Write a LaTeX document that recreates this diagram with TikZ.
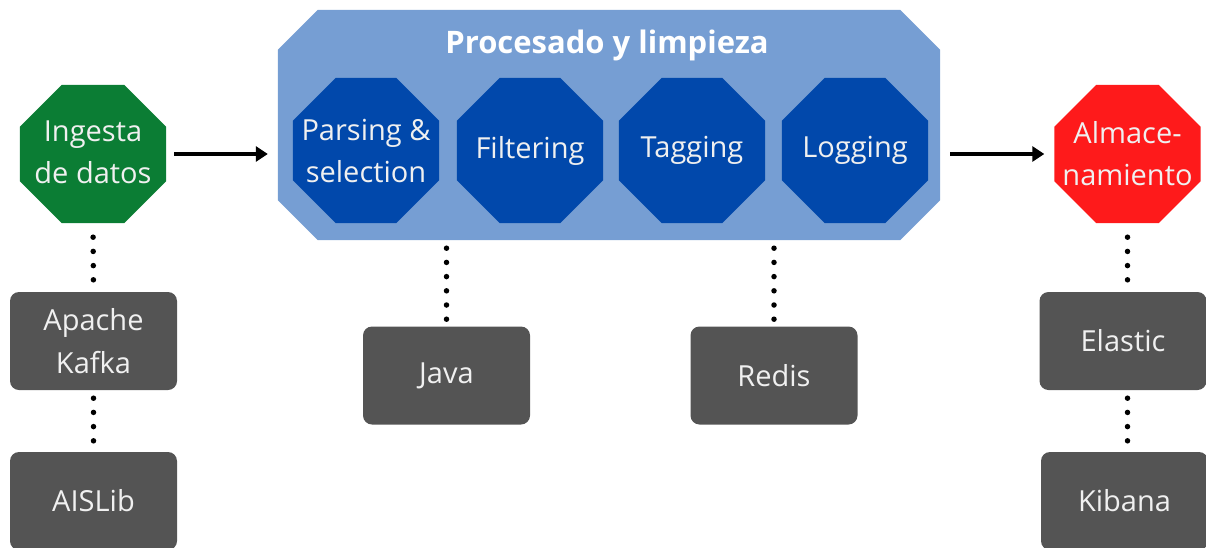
\documentclass[tikz,border=0pt]{standalone}
\usepackage{fontspec}
\setmainfont{Open Sans}
\usetikzlibrary{arrows.meta}
\definecolor{ingreen}{RGB}{11,125,52}
\definecolor{procblue}{RGB}{118,158,211}
\definecolor{stepblue}{RGB}{1,72,171}
\definecolor{storered}{RGB}{254,26,27}
\definecolor{toolgrey}{RGB}{84,84,84}
\definecolor{txtwhite}{RGB}{240,240,240}
\newcommand\octfill[3]{\fill[#3] ([xshift=#2]#1.north west) -- ([xshift=-#2]#1.north east)
  -- ([yshift=-#2]#1.north east) -- ([yshift=#2]#1.south east)
  -- ([xshift=-#2]#1.south east) -- ([xshift=#2]#1.south west)
  -- ([yshift=#2]#1.south west) -- ([yshift=-#2]#1.north west) -- cycle;}
\tikzset{
  octo/.style={rectangle, inner sep=0pt, minimum width=146pt, minimum height=138pt, draw=none},
  octotxt/.style={text=txtwhite, align=center, inner sep=0pt,
    font=\fontsize{29}{42}\selectfont},
  toolbox/.style={rounded corners=9pt, fill=toolgrey, minimum width=167pt,
    minimum height=98pt, inner sep=0pt, text=txtwhite, align=center,
    font=\fontsize{29}{43}\selectfont},
  dotline/.style={line width=5.5pt, line cap=round, dash pattern=on 0pt off 14.2pt},
  flow/.style={line width=3.5pt, -{Triangle[length=12pt,width=15pt]}}
}
\begin{document}
\begin{tikzpicture}[x=1pt,y=-1pt]
\useasboundingbox (0,0) rectangle (1206,547);
% processing container
\node[rectangle, inner sep=0pt, minimum width=662pt, minimum height=230pt] (proc) at (609,125) {};
\octfill{proc}{40pt}{procblue}
\node[text=white, font=\bfseries\fontsize{31}{36}\selectfont, inner sep=0pt] (proct) at (607,45) {Procesado y limpieza};
% inner steps
\node[octo, minimum height=145pt] (parse) at (366,150.5) {};
\octfill{parse}{43pt}{stepblue}
\node[octotxt] (parset) at (parse) {Parsing \&\\selection};
\node[octo, minimum height=145pt] (filt) at (530,150.5) {};
\octfill{filt}{43pt}{stepblue}
\node[octotxt] (filtt) at (filt) {Filtering};
\node[octo, minimum height=145pt] (tag) at (692,150.5) {};
\octfill{tag}{43pt}{stepblue}
\node[octotxt] (tagt) at (tag) {Tagging};
\node[octo, minimum height=145pt] (logg) at (855,150.5) {};
\octfill{logg}{43pt}{stepblue}
\node[octotxt] (loggt) at (logg) {Logging};
% ingest and storage
\node[octo] (ing) at (93,154) {};
\octfill{ing}{42pt}{ingreen}
\node[octotxt] (ingt) at ([yshift=2pt]ing.center) {Ingesta\\de datos};
\node[octo] (store) at (1127.5,154) {};
\octfill{store}{42pt}{storered}
\node[octotxt] (storet) at (store) {Almace-\\namiento};
% tools
\node[toolbox] (kafka) at (93.5,341) {Apache\\Kafka};
\node[toolbox] (aislib) at (93.5,501) {AISLib};
\node[toolbox] (java) at (446.5,375.5) {Java};
\node[toolbox] (redis) at (774,375.5) {Redis};
\node[toolbox] (elastic) at (1123,341) {Elastic};
\node[toolbox] (kibana) at (1124.5,501) {Kibana};
% flow arrows
\draw[flow, shorten <=8pt, shorten >=10pt] (ing.east) -- (ing.east -| proc.west);
\draw[flow, shorten <=10pt, shorten >=10pt] (store.west -| proc.east) -- (store.west);
% dotted links
\draw[dotline, shorten <=14pt, shorten >=12pt] (ing.south) -- (kafka.north);
\draw[dotline, shorten <=8pt, shorten >=11pt] (kafka.south) -- (aislib.north);
\draw[dotline, shorten <=8pt, shorten >=7pt] (java.north |- proc.south) -- (java.north);
\draw[dotline, shorten <=8pt, shorten >=7pt] (redis.north |- proc.south) -- (redis.north);
\draw[dotline, shorten <=14pt, shorten >=12pt] (store.south) -- (store.south |- elastic.north);
\draw[dotline, shorten <=8pt, shorten >=11pt] (store.south |- elastic.south) -- (store.south |- kibana.north);
\end{tikzpicture}
\end{document}
